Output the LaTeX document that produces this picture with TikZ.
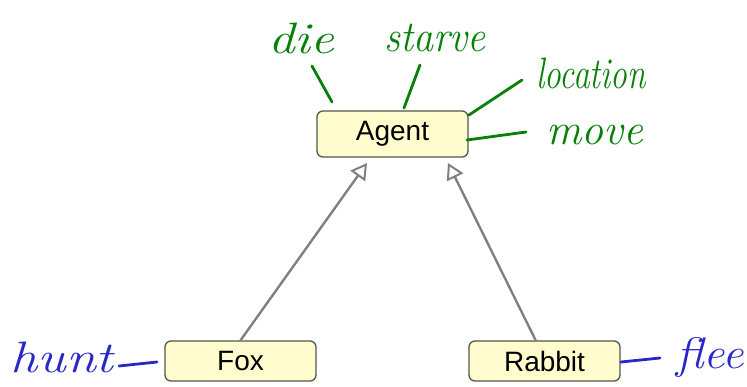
\documentclass[tikz,border=0pt]{standalone}
\usepackage{fontspec}
\setsansfont{Liberation Sans}
\usetikzlibrary{arrows.meta}
\definecolor{boxfill}{RGB}{255,252,205}
\definecolor{boxline}{RGB}{85,85,75}
\definecolor{linkgray}{RGB}{128,128,128}
\definecolor{inkgreen}{RGB}{8,128,8}
\definecolor{inkblue}{RGB}{40,40,200}
\tikzset{
  classbox/.style={draw=boxline, fill=boxfill, line width=1.3pt, rounded corners=6pt,
    minimum width=151pt, font=\sffamily\fontsize{28}{28}\selectfont, inner sep=0pt},
  inherit/.style={draw=linkgray, line width=2.4pt, -{Triangle[open, length=16pt, width=18pt, line width=2pt]}},
  greenink/.style={draw=inkgreen, line width=2.8pt, line cap=round},
  blueink/.style={draw=inkblue, line width=2.8pt, line cap=round},
  hand/.style={font=\itshape\fontsize{44}{44}\selectfont, inner sep=0pt},
}
\begin{document}
\begin{tikzpicture}[x=1pt, y=-1pt]
\useasboundingbox (0,0) rectangle (747,387);
% class boxes
\node[classbox, minimum height=46pt] (agent) at (392.5,134) {Agent};
\node[classbox, minimum height=40pt] (fox) at (240.5,361) {Fox};
\node[classbox, minimum height=40pt] (rabbit) at (544.5,361) {Rabbit};
% inheritance
\coordinate (tipfox) at (367,163);
\coordinate (tiprabbit) at (448,163);
\coordinate (baserabbit) at (536,341);
\draw[inherit] (fox.north) -- (tipfox);
\draw[inherit] (baserabbit) -- (tiprabbit);
% handwritten notes (green)
\node[hand, text=inkgreen] (die) at (301,38) {\scalebox{1.2}[1]{die}};
\node[hand, text=inkgreen] (starve) at (435,38) {\scalebox{0.91}[1]{starve}};
\node[hand, text=inkgreen] (location) at (591,73) {\scalebox{0.76}[1]{location}};
\node[hand, text=inkgreen] (move) at (595,135) {\scalebox{1.0}[1]{move}};
\coordinate (d1) at (312,66); \coordinate (d2) at (332,102);
\coordinate (s1) at (420,65); \coordinate (s2) at (404,108);
\coordinate (l1) at (522,80); \coordinate (l2) at (469,115);
\coordinate (m1) at (526,132); \coordinate (m2) at (467,140);
\draw[greenink] (d1) -- (d2);
\draw[greenink] (s1) -- (s2);
\draw[greenink] (l1) -- (l2);
\draw[greenink] (m1) -- (m2);
% handwritten notes (blue)
\node[hand, text=inkblue] (hunt) at (62,357) {\scalebox{1.23}[1]{hunt}};
\node[hand, text=inkblue] (flee) at (710,357) {\scalebox{1.08}[1]{flee}};
\coordinate (h1) at (119,366); \coordinate (h2) at (157,362);
\coordinate (f1) at (621,362); \coordinate (f2) at (660,358);
\draw[blueink] (h1) -- (h2);
\draw[blueink] (f1) -- (f2);
\end{tikzpicture}
\end{document}
